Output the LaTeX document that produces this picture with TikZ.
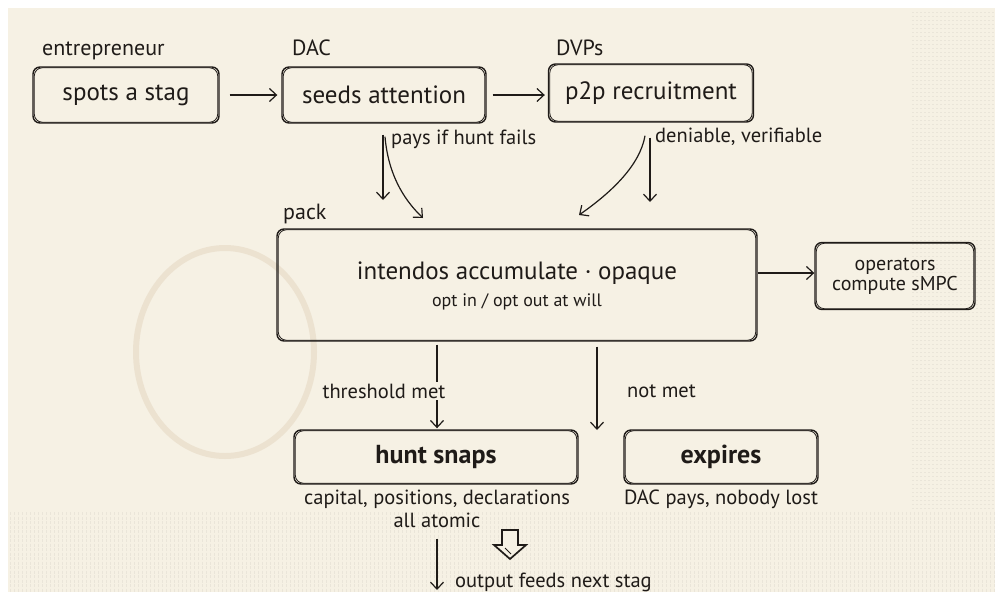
\documentclass[tikz,border=0pt]{standalone}
\usepackage{fontspec}
\setmainfont{PT Sans}
\usetikzlibrary{arrows.meta,calc}
\definecolor{paper}{HTML}{F6F1E4}
\definecolor{ink}{HTML}{1F1B18}
\definecolor{stain}{HTML}{E3D4BD}
\definecolor{weave}{HTML}{EAE5D9}
\tikzset{
  x=1pt, y=-1pt,
  box/.style={draw=ink, line width=1.4pt, rounded corners=7pt, inner sep=0pt,
    align=center, text=ink, font=\fontsize{25}{28}\selectfont},
  lbl/.style={text=ink, inner sep=0pt, font=\fontsize{22}{25}\selectfont},
  small/.style={text=ink, inner sep=0pt, align=center, font=\fontsize{20.5}{23}\selectfont},
  arr/.style={draw=ink, line width=1.2pt,
    -{Straight Barb[length=7pt,width=13pt,line width=1.2pt]}},
  restroke/.style={draw=ink, line width=0.8pt, rounded corners=8pt},
}
\newcommand\rebox[1]{%
  \draw[restroke] ([shift={(2pt,1.5pt)}]#1.south west) rectangle ([shift={(-2pt,-1.5pt)}]#1.north east);}
\begin{document}
\begin{tikzpicture}
\useasboundingbox (0,0) rectangle (995,592);
% paper
\fill[white] (0,0) rectangle (995,592);
\fill[paper] (8,8) rectangle (995,592);
% napkin weave strips
\foreach \yy in {12,16,...,508} {
  \draw[weave, line width=0.5pt, dash pattern=on 2pt off 2pt] (912,\yy) -- (995,\yy);
}
\foreach \xx in {10,14,...,994} {
  \draw[weave, line width=0.5pt, dash pattern=on 3pt off 1.5pt] (\xx,512) -- (\xx,592);
}
% coffee ring
\draw[stain, line width=6pt, opacity=0.5] (225,352) ellipse [x radius=89, y radius=104];

% role labels
\node[lbl, anchor=base west] (lent) at (42,55) {entrepreneur};
\node[lbl, anchor=base west] (ldac) at (292,55) {DAC};
\node[lbl, anchor=base west] (ldvp) at (556,55) {DVPs};
\node[lbl, anchor=base west] (lpack) at (283,219) {pack};

% boxes
\node[box, minimum width=186, minimum height=56] (b1) at (126,95) {spots a stag};
\node[box, minimum width=204, minimum height=56] (b2) at (384,95) {seeds attention};
\node[box, minimum width=205, minimum height=58] (b3) at (651,93) {p2p recruitment};
\node[box, minimum width=480, minimum height=112] (pack) at (517,285) {};
\node[text=ink, font=\fontsize{25}{28}\selectfont, inner sep=0pt] (packtxt) at (517,273) {intendos accumulate · opaque};
\node[small, font=\fontsize{18}{21}\selectfont] (packsub) at (517,302) {opt in / opt out at will};
\node[box, minimum width=160, minimum height=67, font=\fontsize{20}{23}\selectfont] (ops) at (895,276) {operators\\[-3pt]compute sMPC};
\node[box, minimum width=284, minimum height=54, font=\bfseries\fontsize{26}{29}\selectfont] (hunt) at (436,457) {hunt snaps};
\node[box, minimum width=194, minimum height=54, font=\bfseries\fontsize{26}{29}\selectfont] (exp) at (721,457) {expires};
\foreach \n in {b1,b2,b3,pack,ops,hunt,exp} { \rebox{\n} }

% captions
\node[small] (hcap) at (437,499) {capital, positions, declarations};
\node[small] (hcap2) at (437,520) {all atomic};
\node[small] (ecap) at (721,499) {DAC pays, nobody lost};

% top row arrows
\draw[arr] ([xshift=10pt]b1.east) -- ([xshift=-4pt]b1.east -| b2.west);
\draw[arr] ([xshift=6pt]b2.east) -- ([xshift=-3pt]b2.east -| b3.west);

% from seeds attention
\coordinate (e1) at (383,200);
\coordinate (e2) at (423,218);
\draw[arr] ($(b2.south)+(-1,11)$) -- (e1);
\draw[arr] ($(b2.south)+(1,13)$) .. controls (388,172) and (402,198) .. (e2);
\node[small, anchor=base west] (lpays) at (391,144) {pays if hunt fails};

% from p2p
\coordinate (e3) at (579,215);
\coordinate (e4) at (650,202);
\draw[arr] ($(b3.south)+(-6,13)$) .. controls (640,165) and (612,192) .. (e3);
\draw[arr] ($(b3.south)+(-1,15)$) -- (e4);
\node[small, anchor=base west] (lden) at (655,142) {deniable, verifiable};

% to operators
\coordinate (po) at (758,273);
\draw[arr] (po) -- (po -| ops.west);

% threshold / not met
\draw[arr] ($(pack.south)+(-80,3)$) -- ($(hunt.north)+(1,-1)$);
\node[small, fill=paper, inner sep=2pt] (lthr) at (384,391) {threshold met};
\coordinate (e5) at (597,430);
\draw[arr] ($(pack.south)+(80,5)$) -- (e5);
\node[small, anchor=west] (lnot) at (627,391) {not met};

% output
\coordinate (e6) at (437,590);
\draw[arr] ($(hunt.south)+(1,54)$) -- (e6);
\node[small, anchor=base west] (lout) at (455,587) {output feeds next stag};

% hollow arrow
\draw[ink, line width=1.7pt, fill=paper, line join=miter]
  (502,530) -- (518,530) -- (518,545) -- (526,545) -- (510,559) -- (494,545) -- (502,545) -- cycle;
\draw[ink, line width=0.9pt] (505,548) -- (511,554);
\end{tikzpicture}
\end{document}
